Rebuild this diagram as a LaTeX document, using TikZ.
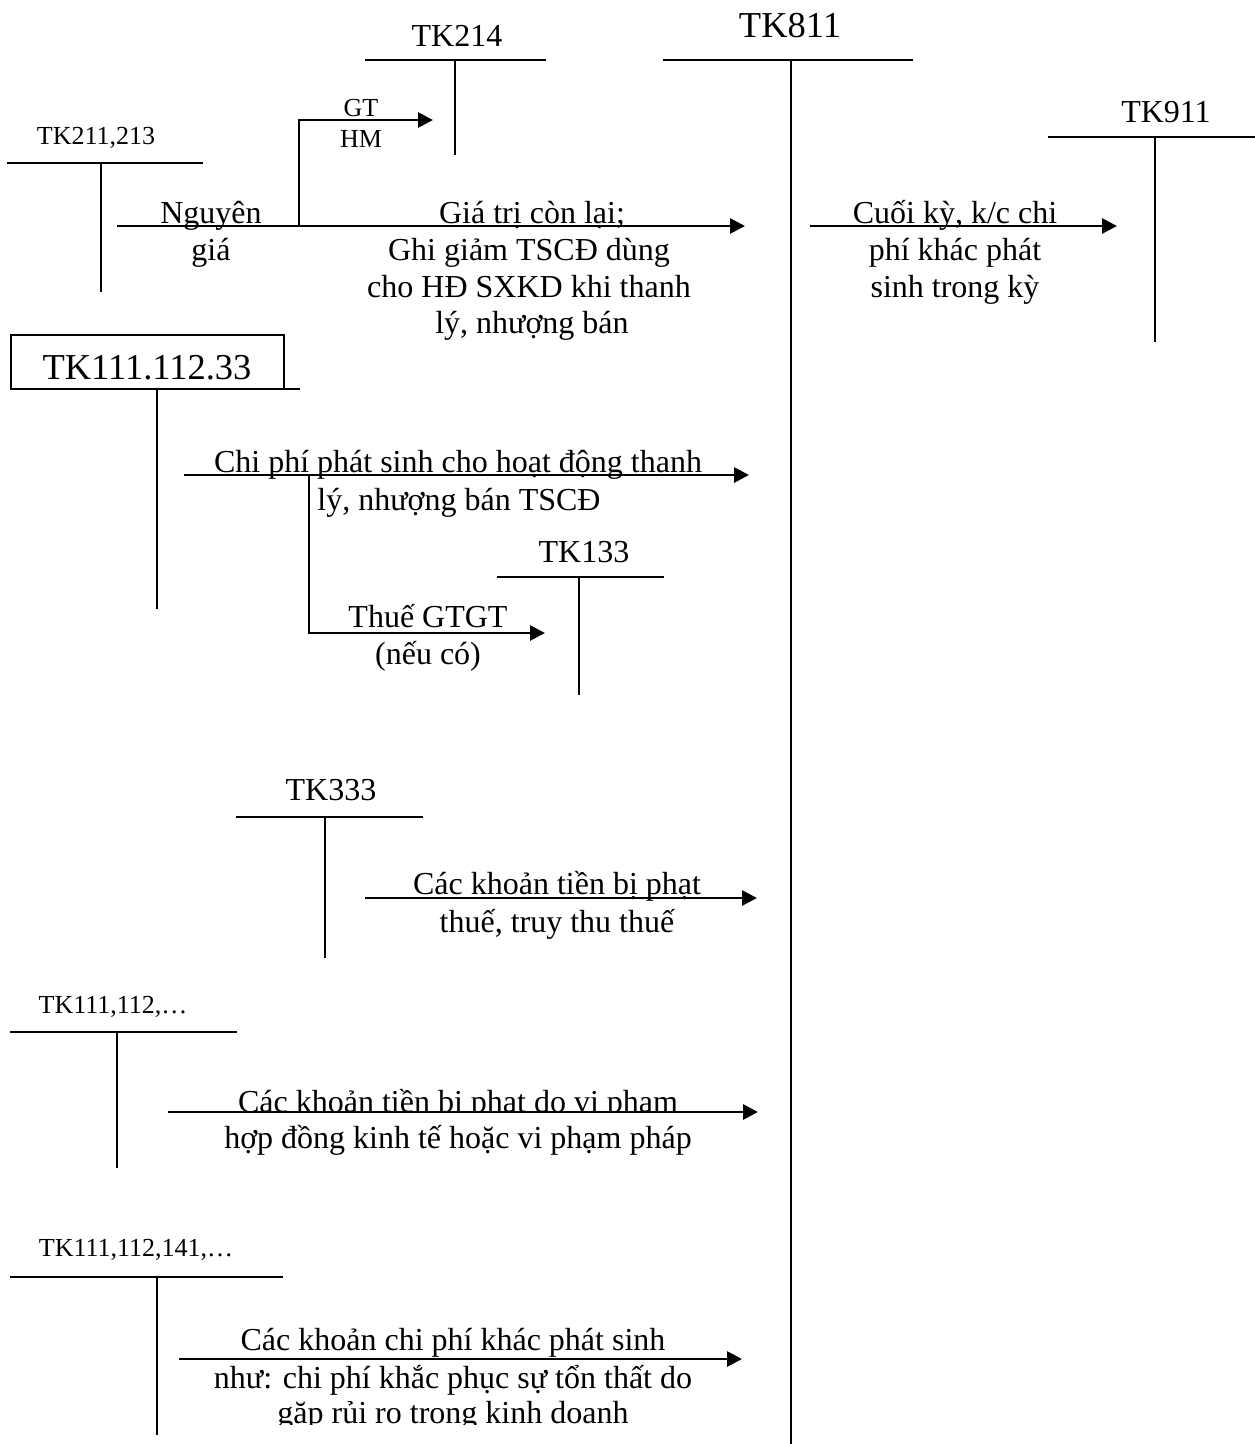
\documentclass[tikz,border=0pt]{standalone}
\usepackage{fontspec}
\setmainfont{Liberation Serif}
\usetikzlibrary{arrows.meta}
\begin{document}
\begin{tikzpicture}[x=1pt,y=-1pt,
  tline/.style={line width=1.8pt},
  flow/.style={line width=2.8pt,-{Triangle[length=15pt,width=15pt]}},
  txt/.style={inner sep=0pt,anchor=base,font=\fontsize{32}{37}\selectfont},
  small/.style={inner sep=0pt,anchor=base,font=\fontsize{26}{30}\selectfont},
  big/.style={inner sep=0pt,anchor=base,font=\fontsize{36.5}{42}\selectfont}]
\useasboundingbox[fill=white] (0,0) rectangle (1255,1444);

% ---------- TK214
\node[txt] (n214) at (457,46) {TK214};
\coordinate (a214L) at (365,60); \coordinate (a214R) at (546,60);
\coordinate (a214T) at (455,60); \coordinate (a214B) at (455,155);
\draw[tline] (a214L) -- (a214R); \draw[tline] (a214T) -- (a214B);

% ---------- TK811
\node[big] (n811) at (790,37) {TK811};
\coordinate (a811L) at (663,60); \coordinate (a811R) at (913,60);
\coordinate (a811T) at (791,60); \coordinate (a811B) at (791,1444);
\draw[tline] (a811L) -- (a811R); \draw[tline] (a811T) -- (a811B);

% ---------- TK911
\node[txt] (n911) at (1166,122) {TK911};
\coordinate (a911L) at (1048,137); \coordinate (a911R) at (1255,137);
\coordinate (a911T) at (1155,137); \coordinate (a911B) at (1155,342);
\draw[tline] (a911L) -- (a911R); \draw[tline] (a911T) -- (a911B);

% ---------- TK211,213
\node[small] (n211) at (96,144) {TK211,213};
\coordinate (a211L) at (7,163); \coordinate (a211R) at (203,163);
\coordinate (a211T) at (101,163); \coordinate (a211B) at (101,292);
\draw[tline] (a211L) -- (a211R); \draw[tline] (a211T) -- (a211B);

% arrow 1 with branch to TK214
\coordinate (s1) at (117,226); \coordinate (e1) at (745,226);
\coordinate (b1) at (299,226); \coordinate (b1u) at (299,120);
\coordinate (e1b) at (433,120);
\draw[flow] (s1) -- (e1);
\draw[tline] (b1) -- ([yshift=-0.5pt]b1u);
\draw[flow] ([xshift=-0.9pt]b1u) -- (e1b);
\node[small] (gt) at (361,116) {GT};
\node[small] (hm) at (361,147) {HM};
\node[txt] (ng1) at (211,223) {Nguyên};
\node[txt] (ng2) at (211,260) {giá};
\node[txt] (gt1) at (532,223) {Giá trị còn lại;};
\node[txt] (gt2) at (529,260) {Ghi giảm TSCĐ dùng};
\node[txt] (gt3) at (529,297) {cho HĐ SXKD khi thanh};
\node[txt] (gt4) at (532,333) {lý, nhượng bán};

% arrow to TK911
\coordinate (s2) at (810,226); \coordinate (e2) at (1117,226);
\draw[flow] (s2) -- (e2);
\node[txt] (ck1) at (955,223) {Cuối kỳ, k/c chi};
\node[txt] (ck2) at (955,260) {phí khác phát};
\node[txt] (ck3) at (955,297) {sinh trong kỳ};

% ---------- TK111.112.33
\draw[tline] (11,335) rectangle (284,389);
\node[big] (n111a) at (147,379) {TK111.112.33};
\coordinate (a111L) at (11,389); \coordinate (a111R) at (300,389);
\coordinate (a111T) at (157,389); \coordinate (a111B) at (157,609);
\draw[tline] (a111L) -- (a111R); \draw[tline] (a111T) -- (a111B);

\coordinate (s3) at (184,475); \coordinate (e3) at (749,475);
\coordinate (b3) at (309,475); \coordinate (b3d) at (309,633);
\coordinate (e3b) at (545,633);
\draw[flow] (s3) -- (e3);
\draw[tline] (b3) -- ([yshift=0.5pt]b3d);
\draw[flow] ([xshift=-0.9pt]b3d) -- (e3b);
\node[txt] (cp1) at (458,472) {Chi phí phát sinh cho hoạt động thanh};
\node[txt] (cp2) at (459,510) {lý, nhượng bán TSCĐ};
\node[txt] (th1) at (428,627) {Thuế GTGT};
\node[txt] (th2) at (428,664) {(nếu có)};

% ---------- TK133
\node[txt] (n133) at (584,562) {TK133};
\coordinate (a133L) at (497,577); \coordinate (a133R) at (664,577);
\coordinate (a133T) at (579,577); \coordinate (a133B) at (579,695);
\draw[tline] (a133L) -- (a133R); \draw[tline] (a133T) -- (a133B);

% ---------- TK333
\node[txt] (n333) at (331,800) {TK333};
\coordinate (a333L) at (236,817); \coordinate (a333R) at (423,817);
\coordinate (a333T) at (325,817); \coordinate (a333B) at (325,958);
\draw[tline] (a333L) -- (a333R); \draw[tline] (a333T) -- (a333B);
\coordinate (s4) at (365,898); \coordinate (e4) at (757,898);
\draw[flow] (s4) -- (e4);
\node[txt] (ph1) at (557,894) {Các khoản tiền bị phạt};
\node[txt] (ph2) at (557,932) {thuế, truy thu thuế};

% ---------- TK111,112,...
\node[small] (n111b) at (113,1013) {TK111,112,…};
\coordinate (a111bL) at (10,1032); \coordinate (a111bR) at (237,1032);
\coordinate (a111bT) at (117,1032); \coordinate (a111bB) at (117,1168);
\draw[tline] (a111bL) -- (a111bR); \draw[tline] (a111bT) -- (a111bB);
\begin{scope}
\clip (150,1060) rectangle (760,1112);
\node[txt] (vp1) at (458,1112) {Các khoản tiền bị phạt do vi phạm};
\end{scope}
\coordinate (s5) at (168,1112); \coordinate (e5) at (758,1112);
\draw[flow] (s5) -- (e5);
\node[txt] (vp2) at (458,1148) {hợp đồng kinh tế hoặc vi phạm pháp};

% ---------- TK111,112,141,...
\node[small] (n111c) at (136,1256) {TK111,112,141,…};
\coordinate (a111cL) at (10,1277); \coordinate (a111cR) at (283,1277);
\coordinate (a111cT) at (157,1277); \coordinate (a111cB) at (157,1435);
\draw[tline] (a111cL) -- (a111cR); \draw[tline] (a111cT) -- (a111cB);
\coordinate (s6) at (179,1359); \coordinate (e6) at (742,1359);
\draw[flow] (s6) -- (e6);
\node[txt] (kh1) at (453,1350) {Các khoản chi phí khác phát sinh};
\node[txt] (kh2) at (453,1388) {như: chi phí khắc phục sự tổn thất do};
\begin{scope}
\clip (150,1395) rectangle (760,1424);
\node[txt] (kh3) at (453,1423) {gặp rủi ro trong kinh doanh};
\end{scope}
\end{tikzpicture}
\end{document}
